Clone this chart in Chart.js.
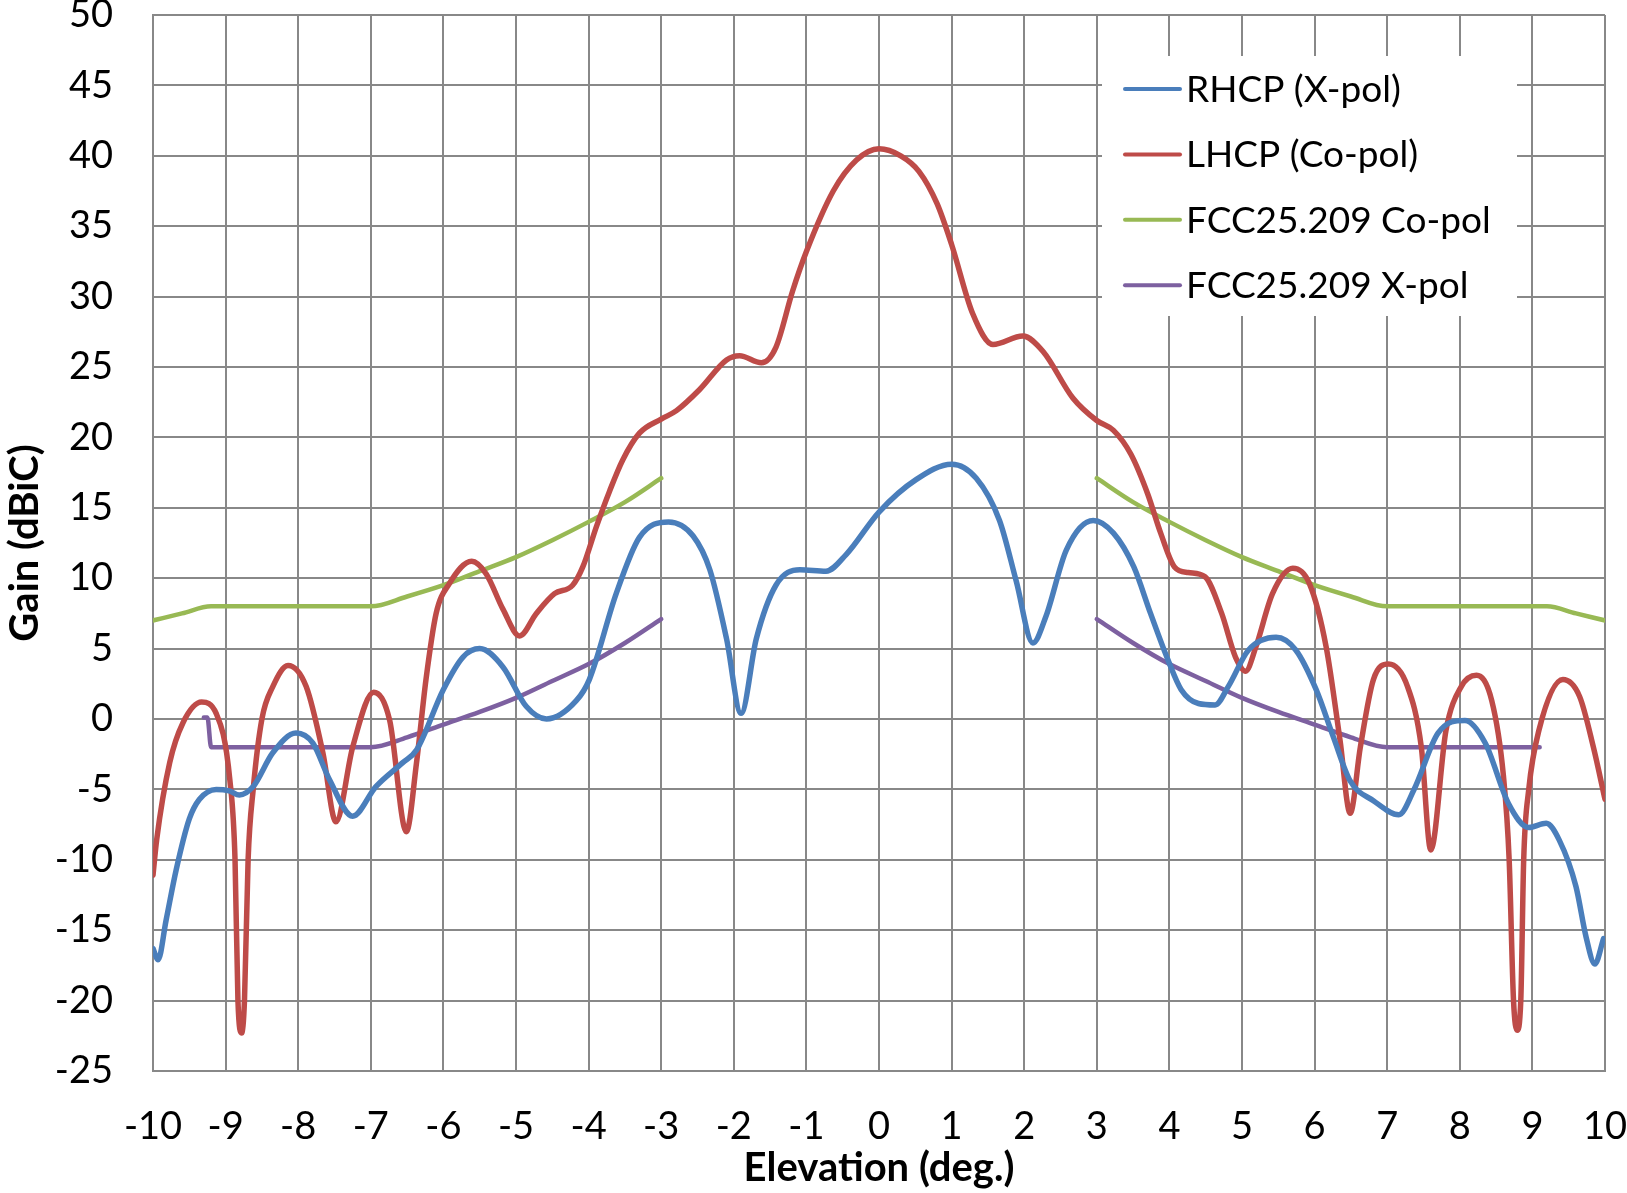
<!DOCTYPE html>
<html>
<head>
<meta charset="utf-8">
<script src="https://cdn.jsdelivr.net/npm/chart.js@4.4.1/dist/chart.umd.min.js"></script>
<style>
    html, body { margin: 0; padding: 0; background: #fff; }
    #wrap { width: 1627px; height: 1193px; }
</style>
</head>
<body>
<div id="wrap"><canvas id="gainChart" width="1627" height="1193"></canvas></div>
<script>
// [elevation (deg), gain (dBiC)]
const rhcpXpol = [
    [-10, -16.3], [-9.93, -17.1], [-9.82, -14.3], [-9.68, -10.7], [-9.5, -7.1],
    [-9.36, -5.7], [-9.13, -5.0], [-8.95, -5.1], [-8.81, -5.4], [-8.62, -4.8],
    [-8.35, -2.4], [-8.03, -1.0], [-7.8, -1.7], [-7.57, -4.3], [-7.25, -6.9],
    [-6.93, -4.8], [-6.56, -3.1], [-6.37, -2.2], [-6.0, 2.1], [-5.73, 4.4],
    [-5.5, 5.0], [-5.18, 3.7], [-4.86, 0.9], [-4.58, 0.0], [-4.17, 1.3],
    [-3.99, 2.8], [-3.62, 8.9], [-3.3, 12.9], [-2.9, 14.0], [-2.56, 13.0],
    [-2.33, 10.6], [-2.1, 5.7], [-1.9, 0.4], [-1.69, 5.7], [-1.42, 9.5],
    [-1.09, 10.6], [-0.73, 10.5], [-0.45, 11.7], [0, 14.7], [0.51, 17.0],
    [1.0, 18.1], [1.34, 17.1], [1.66, 14.1], [1.89, 9.8], [2.12, 5.4],
    [2.3, 7.3], [2.58, 12.0], [2.95, 14.1], [3.23, 13.2], [3.51, 10.8],
    [3.74, 7.5], [3.98, 4.2], [4.16, 2.1], [4.4, 1.1], [4.63, 1.0],
    [4.81, 2.3], [5.09, 4.9], [5.47, 5.8], [5.74, 4.9], [6.02, 2.1],
    [6.26, -1.3], [6.49, -4.4], [6.81, -5.8], [7.16, -6.8], [7.37, -5.0],
    [7.7, -1.0], [8.07, -0.1], [8.35, -1.7], [8.67, -6.0], [8.95, -7.7],
    [9.19, -7.4], [9.37, -8.6], [9.6, -11.9], [9.74, -15.5], [9.86, -17.4],
    [9.98, -15.6]
];

const lhcpCopol = [
    [-10, -11.1], [-9.95, -8.6], [-9.77, -3.1], [-9.59, -0.3], [-9.33, 1.2],
    [-9.13, 0.4], [-8.94, -4.4], [-8.87, -10], [-8.83, -20], [-8.78, -22.3],
    [-8.74, -20], [-8.69, -10], [-8.62, -5.0], [-8.5, 0.0], [-8.35, 2.3],
    [-8.14, 3.8], [-7.89, 2.3], [-7.66, -2.4], [-7.48, -7.3], [-7.25, -2.0],
    [-6.96, 1.9], [-6.74, -0.1], [-6.51, -8.0], [-6.37, -3.1], [-6.24, 2.8],
    [-6.1, 7.5], [-5.92, 9.6], [-5.61, 11.2], [-5.41, 10.3], [-5.18, 7.8],
    [-4.95, 5.9], [-4.72, 7.5], [-4.47, 8.9], [-4.22, 9.5], [-4.08, 10.8],
    [-3.89, 13.7], [-3.71, 16.2], [-3.53, 18.4], [-3.3, 20.3], [-3.0, 21.3],
    [-2.79, 21.9], [-2.47, 23.4], [-2.1, 25.5], [-1.92, 25.8], [-1.62, 25.3],
    [-1.42, 26.4], [-1.19, 30.4], [-1.0, 33.2], [-0.63, 37.5], [-0.31, 39.7],
    [0, 40.5], [0.3, 40.0], [0.55, 38.9], [0.8, 36.6], [1.0, 33.7], [1.29, 28.8],
    [1.57, 26.6], [1.98, 27.2], [2.26, 26.1], [2.67, 22.8], [3.0, 21.2],
    [3.23, 20.5], [3.47, 18.8], [3.7, 16.0], [3.88, 13.2], [4.07, 10.8],
    [4.26, 10.4], [4.49, 10.1], [4.72, 7.5], [4.91, 4.4], [5.05, 3.4],
    [5.19, 5.1], [5.42, 8.9], [5.7, 10.7], [5.93, 9.6], [6.16, 5.1],
    [6.35, -1.5], [6.49, -6.7], [6.63, -2.0], [6.81, 2.8], [7.02, 3.9],
    [7.28, 2.3], [7.47, -2.0], [7.6, -9.3], [7.81, -0.8], [8.02, 2.3],
    [8.23, 3.1], [8.44, 1.3], [8.6, -4.0], [8.68, -10], [8.74, -20],
    [8.79, -22.1], [8.84, -20], [8.88, -10], [8.95, -5.0], [9.09, -0.8],
    [9.42, 2.8], [9.65, 1.6], [9.84, -2.0], [10, -5.7]
];

const fccCopolLeft = [
    [-10, 7.0], [-9.6, 7.5], [-9.2, 8.0], [-7, 8.0], [-6.5, 8.7], [-6, 9.5],
    [-5.5, 10.5], [-5, 11.5], [-4.5, 12.7], [-4, 14.0], [-3.5, 15.4], [-3, 17.1]
];
const fccCopolRight = [
    [3, 17.1], [3.5, 15.4], [4, 14.0], [4.5, 12.7], [5, 11.5], [5.5, 10.5],
    [6, 9.5], [6.5, 8.7], [7, 8.0], [9.2, 8.0], [9.6, 7.5], [10, 7.0]
];
const fccXpolLeft = [
    [-9.3, 0.1], [-9.25, 0.1], [-9.2, -2.0], [-7, -2.0], [-6.5, -1.3], [-6, -0.4],
    [-5.5, 0.5], [-5, 1.5], [-4.5, 2.7], [-4, 3.9], [-3.5, 5.4], [-3, 7.1]
];
const fccXpolRight = [
    [3, 7.1], [3.5, 5.4], [4, 3.9], [4.5, 2.7], [5, 1.5], [5.5, 0.5],
    [6, -0.4], [6.5, -1.3], [7, -2.0], [9.1, -2.0]
];

const seriesNames = ['RHCP (X-pol)', 'LHCP (Co-pol)', 'FCC25.209 Co-pol', 'FCC25.209 X-pol'];
const seriesColors = ['#4A7EBB', '#BE4B48', '#98B954', '#7D60A0'];

const X_MIN = -10, X_MAX = 10, Y_MIN = -25, Y_MAX = 50;

const FONT = 'Lato, "Open Sans", sans-serif';

document.addEventListener('DOMContentLoaded', function () {
    const canvas = document.getElementById('gainChart');

    const toPoints = arr => arr.map(p => ({ x: p[0], y: p[1] }));
    // null point between the two halves breaks the line
    const joinWithGap = (a, b) => toPoints(a).concat([{ x: 0, y: null }], toPoints(b));

    // no extra room for edge tick labels, the plot box is fixed by layout padding
    const noEdgePadding = function (scale) {
        scale.paddingTop = 0;
        scale.paddingBottom = 0;
        scale.paddingLeft = 0;
        scale.paddingRight = 0;
    };

    // Legend drawn inside the plot area (white box over the grid)
    const InsideLegend = {
        id: 'insideLegend',
        afterDatasetsDraw(chart) {
            const ctx = chart.ctx;
            const area = chart.chartArea;
            const left = area.right - 503;
            const top = area.top + 41;
            ctx.save();
            ctx.fillStyle = '#fff';
            ctx.fillRect(left, top, 415, 260);
            ctx.font = '37px ' + FONT;
            ctx.textBaseline = 'middle';
            ctx.textAlign = 'left';
            chart.data.datasets.forEach((ds, i) => {
                const y = top + 33 + i * 65.4;
                ctx.strokeStyle = ds.borderColor;
                ctx.lineWidth = 4;
                ctx.lineCap = 'round';
                ctx.beginPath();
                ctx.moveTo(left + 23, y);
                ctx.lineTo(left + 78, y);
                ctx.stroke();
                ctx.fillStyle = '#000';
                ctx.fillText(ds.label, left + 84, y + 1);
            });
            ctx.restore();
        }
    };

    const makeSet = (label, color, data, width) => ({
        label: label,
        data: data,
        showLine: true,
        borderColor: color,
        backgroundColor: color,
        borderWidth: width,
        pointRadius: 0,
        pointHoverRadius: 0,
        cubicInterpolationMode: 'monotone',
        spanGaps: false,
        borderCapStyle: 'round',
        borderJoinStyle: 'round'
    });

    new Chart(canvas, {
        type: 'scatter',
        data: {
            datasets: [
                makeSet(seriesNames[0], seriesColors[0], toPoints(rhcpXpol), 5.5),
                makeSet(seriesNames[1], seriesColors[1], toPoints(lhcpCopol), 5.5),
                makeSet(seriesNames[2], seriesColors[2], joinWithGap(fccCopolLeft, fccCopolRight), 4.5),
                makeSet(seriesNames[3], seriesColors[3], joinWithGap(fccXpolLeft, fccXpolRight), 4.5)
            ]
        },
        plugins: [InsideLegend],
        options: {
            responsive: false,
            animation: false,
            layout: {
                padding: { top: 15, right: 22, left: 0, bottom: 0 }
            },
            plugins: {
                legend: { display: false },
                tooltip: { enabled: false }
            },
            scales: {
                x: {
                    type: 'linear',
                    min: X_MIN,
                    max: X_MAX,
                    afterFit: function (scale) {
                        scale.height = 122;
                        noEdgePadding(scale);
                    },
                    grid: { color: '#888', lineWidth: 2, drawTicks: false },
                    border: { color: '#888', width: 2 },
                    ticks: {
                        stepSize: 1,
                        autoSkip: false,
                        maxRotation: 0,
                        padding: 33,
                        color: '#000',
                        font: { family: FONT, size: 38 }
                    },
                    title: {
                        display: true,
                        text: 'Elevation (deg.)',
                        color: '#000',
                        font: { family: FONT, size: 40, weight: 'bold' },
                        padding: { top: 0, bottom: 1 }
                    }
                },
                y: {
                    type: 'linear',
                    min: Y_MIN,
                    max: Y_MAX,
                    afterFit: function (scale) {
                        scale.width = 153;
                        noEdgePadding(scale);
                    },
                    grid: { color: '#888', lineWidth: 2, drawTicks: false },
                    border: { color: '#888', width: 2 },
                    ticks: {
                        stepSize: 5,
                        autoSkip: false,
                        padding: 40,
                        color: '#000',
                        font: { family: FONT, size: 38 }
                    },
                    title: {
                        display: true,
                        text: 'Gain (dBiC)',
                        color: '#000',
                        font: { family: FONT, size: 40, weight: 'bold' },
                        padding: { top: 1, bottom: 0 }
                    }
                }
            }
        }
    });
});
</script>
</body>
</html>
